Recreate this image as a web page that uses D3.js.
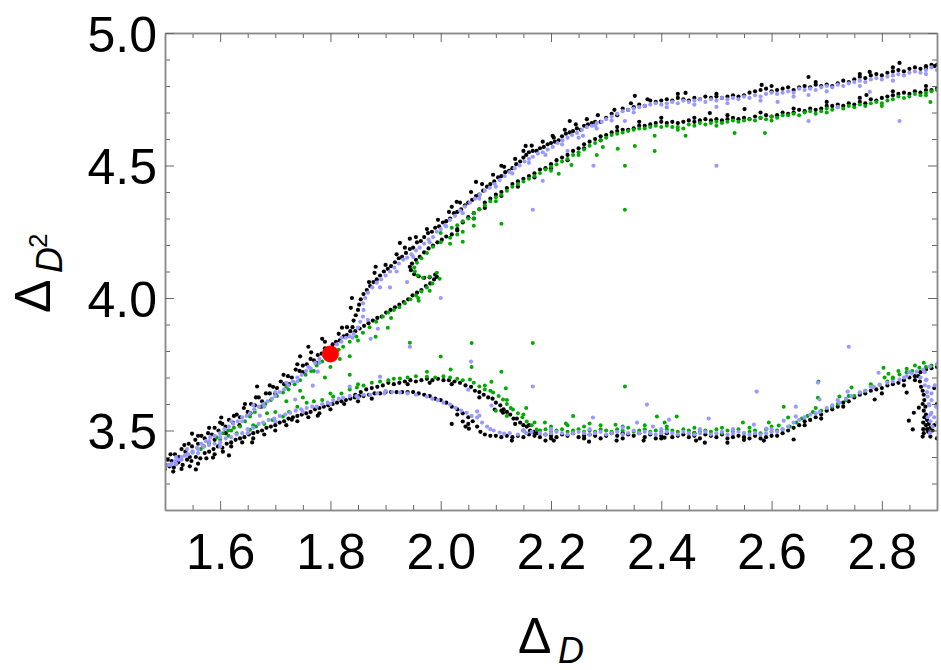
<!DOCTYPE html>
<html><head><meta charset="utf-8">
<script src="https://cdn.jsdelivr.net/npm/d3@7"></script>
<style>html,body{margin:0;padding:0;background:#fff}svg{display:block}text{font-family:"Liberation Sans",Arial,sans-serif;fill:#000}</style>
</head><body><div id="c"></div>
<script>
// Flat x,y lists
const xMajor=[1.6,1.8,2.0,2.2,2.4,2.6,2.8];
const xMinor=[1.55,1.65,1.7,1.75,1.85,1.9,1.95,2.05,2.1,2.15,2.25,2.3,2.35,2.45,2.5,2.55,2.65,2.7,2.75,2.85];
const yMajor=[3.5,4.0,4.5,5.0];
const yMinor=[3.3,3.4,3.6,3.7,3.8,3.9,4.1,4.2,4.3,4.4,4.6,4.7,4.8,4.9];
const redPoint=[1.8,3.789];

const blackUpper=[1.5,3.37,1.505,3.39,1.512,3.385,1.518,3.41,1.525,3.40,1.53,3.43,1.537,3.42,1.543,3.45,1.549,3.44,1.555,3.465,1.56,3.45,1.566,3.48,1.572,3.47,1.578,3.49,1.585,3.485,1.59,3.51,1.597,3.50,1.604,3.525,1.61,3.515,1.616,3.54,1.623,3.53,1.63,3.56,1.636,3.55,1.643,3.585,1.65,3.57,1.656,3.60,1.663,3.595,1.67,3.625,1.676,3.61,1.683,3.64,1.69,3.64,1.696,3.665,1.703,3.66,1.71,3.685,1.716,3.675,1.723,3.705,1.73,3.70,1.737,3.73,1.744,3.725,1.75,3.745,1.757,3.75,1.764,3.77,1.77,3.765,1.777,3.785,1.784,3.79,1.79,3.81,1.797,3.805,1.804,3.825,1.81,3.835,1.817,3.84,1.824,3.855,1.83,3.86,1.836,3.875,1.84,3.89,1.842,3.915,1.846,3.935,1.85,3.955,1.852,3.975,1.855,3.995,1.86,4.015,1.866,4.03,1.872,4.045,1.878,4.06,1.884,4.07,1.89,4.085,1.897,4.10,1.904,4.11,1.91,4.12,1.917,4.135,1.924,4.15,1.93,4.155,1.937,4.17,1.944,4.185,1.95,4.19,1.957,4.21,1.964,4.215,1.97,4.23,1.977,4.245,1.984,4.25,1.99,4.265,1.997,4.27,2.004,4.285,2.01,4.29,2.017,4.30,2.024,4.32,2.03,4.325,2.037,4.335,2.044,4.35,2.05,4.36,2.057,4.37,2.064,4.385,2.07,4.39,2.077,4.405,2.084,4.42,2.09,4.43,2.097,4.44,2.104,4.455,2.11,4.46,2.117,4.475,2.124,4.48,2.13,4.49,2.137,4.505,2.144,4.515,2.15,4.53,2.155,4.54,2.16,4.55,2.167,4.555,2.174,4.555,2.18,4.565,2.187,4.57,2.194,4.58,2.2,4.585,2.207,4.59,2.214,4.595,2.22,4.61,2.227,4.62,2.234,4.625,2.24,4.63,2.247,4.64,2.254,4.635,2.26,4.65,2.267,4.655,2.274,4.66,2.28,4.665,2.29,4.665,2.30,4.68,2.31,4.695,2.32,4.69,2.33,4.715,2.34,4.71,2.35,4.72,2.36,4.73,2.37,4.725,2.38,4.745,2.39,4.74,2.40,4.745,2.41,4.75,2.42,4.745,2.43,4.755,2.44,4.75,2.45,4.745,2.46,4.755,2.47,4.75,2.48,4.76,2.49,4.755,2.50,4.76,2.51,4.755,2.52,4.76,2.53,4.765,2.54,4.76,2.55,4.765,2.56,4.775,2.57,4.78,2.58,4.785,2.59,4.79,2.60,4.78,2.61,4.785,2.62,4.79,2.63,4.795,2.64,4.785,2.65,4.795,2.66,4.80,2.67,4.795,2.68,4.805,2.69,4.80,2.70,4.805,2.71,4.80,2.72,4.81,2.73,4.82,2.74,4.815,2.75,4.825,2.76,4.835,2.77,4.83,2.78,4.84,2.79,4.845,2.80,4.84,2.81,4.85,2.82,4.855,2.83,4.86,2.84,4.855,2.85,4.865,2.86,4.87,2.87,4.865,2.88,4.875,2.89,4.88,2.895,4.875,2.9,4.88];
const blackFork=[1.845,3.875,1.853,3.885,1.861,3.895,1.869,3.905,1.877,3.915,1.885,3.925,1.893,3.93,1.901,3.945,1.909,3.955,1.917,3.965,1.925,3.975,1.933,3.985,1.941,3.995,1.949,4.01,1.957,4.02,1.965,4.03,1.973,4.045,1.981,4.055,1.988,4.07,1.993,4.08,1.99,4.088,1.98,4.078,1.97,4.076,1.96,4.082,1.952,4.09,1.946,4.105,1.944,4.118,1.948,4.13,1.955,4.144,1.962,4.155,1.97,4.172,1.978,4.187,1.986,4.198,1.994,4.21,2.002,4.22,2.01,4.232,2.02,4.24,2.03,4.255,2.04,4.285,2.05,4.305,2.06,4.32,2.07,4.335,2.08,4.36,2.09,4.375,2.10,4.39,2.11,4.40,2.12,4.415,2.13,4.43,2.14,4.44,2.15,4.45,2.16,4.46,2.17,4.47,2.18,4.485,2.19,4.49,2.20,4.505,2.21,4.52,2.22,4.53,2.23,4.54,2.24,4.555,2.25,4.565,2.26,4.58,2.27,4.59,2.28,4.60,2.29,4.61,2.30,4.615,2.31,4.625,2.32,4.63,2.33,4.635,2.34,4.635,2.35,4.64,2.36,4.65,2.37,4.65,2.38,4.655,2.39,4.66,2.40,4.665,2.41,4.66,2.42,4.665,2.43,4.66,2.44,4.665,2.45,4.67,2.46,4.665,2.47,4.67,2.48,4.675,2.49,4.67,2.50,4.675,2.51,4.67,2.52,4.675,2.53,4.68,2.54,4.675,2.55,4.68,2.56,4.675,2.57,4.685,2.58,4.68,2.59,4.69,2.60,4.685,2.61,4.69,2.62,4.70,2.63,4.695,2.64,4.70,2.65,4.71,2.66,4.705,2.67,4.715,2.68,4.71,2.69,4.715,2.70,4.725,2.71,4.725,2.72,4.73,2.73,4.725,2.74,4.735,2.75,4.73,2.76,4.74,2.77,4.735,2.78,4.75,2.79,4.745,2.80,4.755,2.81,4.76,2.82,4.765,2.83,4.77,2.84,4.775,2.85,4.77,2.86,4.78,2.87,4.775,2.88,4.785,2.89,4.785,2.9,4.79];
const blackLow=[1.5,3.355,1.508,3.365,1.516,3.36,1.524,3.38,1.532,3.37,1.54,3.39,1.548,3.385,1.556,3.40,1.564,3.395,1.572,3.415,1.58,3.42,1.588,3.43,1.596,3.44,1.604,3.435,1.612,3.45,1.62,3.455,1.628,3.465,1.636,3.47,1.644,3.475,1.652,3.485,1.66,3.49,1.668,3.495,1.676,3.50,1.684,3.51,1.692,3.515,1.70,3.52,1.708,3.53,1.716,3.535,1.724,3.545,1.732,3.55,1.74,3.555,1.748,3.56,1.756,3.565,1.764,3.57,1.772,3.58,1.78,3.585,1.788,3.59,1.796,3.595,1.804,3.60,1.812,3.605,1.82,3.61,1.828,3.615,1.836,3.62,1.844,3.625,1.852,3.63,1.86,3.63,1.87,3.635,1.88,3.64,1.89,3.64,1.90,3.645,1.91,3.645,1.92,3.645,1.93,3.645,1.94,3.645,1.95,3.645,1.96,3.64,1.97,3.635,1.98,3.63,1.99,3.62,2.00,3.615,2.01,3.605,2.02,3.59,2.03,3.58,2.04,3.565,2.05,3.55,2.058,3.535,2.066,3.515,2.072,3.495,2.08,3.485,2.09,3.48,2.10,3.48,2.11,3.475];
const blackArc=[1.845,3.635,1.855,3.645,1.865,3.655,1.875,3.66,1.885,3.665,1.895,3.67,1.905,3.68,1.915,3.675,1.925,3.68,1.935,3.685,1.945,3.69,1.955,3.685,1.965,3.69,1.975,3.695,1.985,3.69,1.995,3.695,2.005,3.69,2.015,3.69,2.025,3.685,2.035,3.68,2.045,3.67,2.055,3.665,2.062,3.65,2.07,3.645,2.078,3.635,2.086,3.625,2.094,3.62,2.10,3.605,2.108,3.595,2.114,3.58,2.12,3.57,2.126,3.56,2.132,3.545,2.138,3.545,2.144,3.53,2.15,3.52,2.156,3.515,2.162,3.50,2.168,3.495,2.174,3.49];
const blackFlat=[2.12,3.48,2.13,3.475,2.14,3.48,2.15,3.475,2.16,3.485,2.17,3.48,2.18,3.475,2.19,3.485,2.20,3.48,2.21,3.475,2.22,3.485,2.23,3.48,2.24,3.49,2.25,3.475,2.26,3.48,2.27,3.485,2.28,3.48,2.29,3.47,2.30,3.48,2.31,3.49,2.32,3.48,2.33,3.47,2.34,3.485,2.35,3.48,2.36,3.49,2.37,3.475,2.38,3.485,2.39,3.47,2.40,3.48,2.41,3.49,2.42,3.475,2.43,3.48,2.44,3.485,2.45,3.475,2.46,3.48,2.47,3.47,2.48,3.485,2.49,3.48,2.50,3.475,2.51,3.485,2.52,3.47,2.53,3.475,2.54,3.48,2.55,3.475,2.56,3.47,2.57,3.48,2.58,3.47,2.59,3.475,2.60,3.48,2.61,3.48,2.62,3.49,2.63,3.50,2.64,3.51,2.65,3.52,2.66,3.535,2.67,3.54,2.68,3.55,2.69,3.56,2.70,3.575,2.71,3.58,2.72,3.59,2.73,3.605,2.74,3.61,2.75,3.625,2.76,3.635,2.77,3.64,2.78,3.65,2.79,3.655,2.80,3.66,2.81,3.67,2.82,3.675,2.83,3.68,2.84,3.69,2.85,3.70,2.86,3.705,2.87,3.72,2.88,3.73,2.89,3.735,2.9,3.74];
const blackDrop=[2.866,3.705,2.869,3.685,2.871,3.665,2.874,3.65,2.876,3.635,2.877,3.615,2.874,3.60,2.879,3.59,2.876,3.575,2.88,3.56,2.877,3.55,2.882,3.54,2.875,3.53,2.88,3.52,2.885,3.525,2.875,3.505,2.882,3.505,2.888,3.51,2.876,3.49,2.884,3.495,2.874,3.477,2.888,3.477,2.892,3.50,2.895,3.52,2.9,3.47,2.895,3.66,2.9,3.60];
const blackOutliers=[1.839,4.0,1.837,3.963,1.821,3.888,1.785,3.846,1.76,3.816,1.745,3.78,1.667,3.666,1.602,3.549,1.549,3.488,1.616,3.406,1.556,3.353,1.658,3.455,1.926,4.208,1.882,4.118,2.04,3.534,2.051,3.507,1.777,3.556,1.73,3.541,1.587,3.398,2.064,4.438,2.11,4.499,2.154,4.574,2.203,4.612,2.234,4.668,2.352,4.763,2.029,4.363,2.02,4.344,1.944,4.224,2.832,4.887,2.667,4.834,2.488,4.698,2.551,4.713,2.444,4.774,2.582,4.804,2.778,4.853,2.772,4.766,2.129,3.462,2.19,3.462,2.205,3.462,2.269,3.458,2.319,3.462,2.368,3.462,2.406,3.473,2.463,3.462,2.098,3.579,2.113,3.567,2.479,3.454,2.52,3.454,2.64,3.466,2.586,3.462,2.787,3.617,2.845,3.643,2.849,3.537,2.858,3.567,2.856,3.504,2.867,3.586,2.03,4.26,2.02,3.525,2.045,3.515];
const blackScatter=[1.51,3.41,1.52,3.375,1.535,3.445,1.545,3.40,1.56,3.48,1.57,3.44,1.58,3.51,1.59,3.465,1.6,3.53,1.61,3.49,1.625,3.555,1.635,3.52,1.645,3.60,1.655,3.565,1.665,3.625,1.675,3.59,1.69,3.67,1.70,3.64,1.715,3.71,1.725,3.675,1.74,3.75,1.75,3.72,1.765,3.795,1.775,3.755,1.79,3.835,1.815,3.865,1.83,3.89,1.87,4.06,1.88,4.095,1.90,4.125,1.92,4.165,1.935,4.19,1.955,4.23,1.975,4.26,1.995,4.295,2.015,4.325,2.035,4.36,2.055,4.40,2.075,4.43,2.095,4.465,2.115,4.495,2.135,4.525,2.15,4.555,2.165,4.575,2.185,4.59,2.205,4.605,2.225,4.635,2.245,4.655,2.265,4.675,2.285,4.69,2.315,4.71,2.345,4.735,2.375,4.75,1.515,3.345,1.53,3.355,1.545,3.365,1.56,3.375,1.575,3.395,1.59,3.41,1.605,3.42,1.62,3.44,1.64,3.455,1.66,3.47,1.68,3.485,1.70,3.50,1.72,3.52,1.74,3.535,1.76,3.55,1.78,3.565,1.80,3.58,1.825,3.60,1.85,3.61,1.875,3.62,2.03,3.56,2.05,3.525,2.06,4.30,2.08,4.34,2.11,4.385,2.14,4.42,2.17,4.455,2.2,4.49,2.23,4.52,2.26,4.565,2.29,4.595,2.32,4.645,2.36,4.665,2.4,4.68,2.46,4.68,2.52,4.69,2.58,4.70,2.64,4.715,2.7,4.74,2.76,4.755,2.82,4.78,2.88,4.80,2.2,3.47,2.26,3.47,2.33,3.49,2.4,3.47,2.46,3.49,2.55,3.465,2.66,3.52,2.69,3.545,2.73,3.59,2.8,3.64,2.84,3.67,2.86,3.69,1.94,3.675,1.98,3.68,2.02,3.675,2.07,3.625,2.11,3.575,2.135,3.525,2.15,3.50,2.16,3.52,2.43,4.77,2.5,4.77,2.6,4.80,2.68,4.815,2.76,4.845,2.82,4.87,2.88,4.865];

const greenFork=[1.58,3.455,1.594,3.474,1.605,3.49,1.615,3.50,1.625,3.51,1.636,3.515,1.645,3.535,1.654,3.553,1.663,3.57,1.672,3.59,1.682,3.60,1.692,3.615,1.703,3.63,1.714,3.643,1.724,3.655,1.735,3.675,1.745,3.69,1.755,3.71,1.765,3.725,1.775,3.745,1.785,3.76,1.795,3.77,1.805,3.785,1.815,3.805,1.823,3.816,1.835,3.835,1.847,3.855,1.859,3.869,1.871,3.89,1.883,3.91,1.895,3.93,1.905,3.945,1.915,3.955,1.925,3.965,1.935,3.98,1.945,3.995,1.955,4.01,1.965,4.025,1.975,4.04,1.985,4.055,1.998,4.073,1.993,4.095,1.98,4.08,1.968,4.076,1.958,4.085,1.953,4.10,1.952,4.115,1.957,4.133,1.965,4.15,1.975,4.17,1.986,4.193,2.0,4.21,2.017,4.227,2.03,4.24,2.04,4.25,2.02,4.265,2.03,4.275,2.04,4.29,2.05,4.30,2.06,4.32,2.07,4.335,2.08,4.35,2.09,4.365,2.10,4.38,2.11,4.39,2.12,4.405,2.13,4.42,2.14,4.43,2.15,4.44,2.16,4.45,2.17,4.46,2.18,4.472,2.19,4.485,2.20,4.495,2.21,4.505,2.22,4.515,2.23,4.525,2.24,4.54,2.25,4.55,2.26,4.56,2.27,4.575,2.28,4.585,2.29,4.595,2.30,4.605,2.31,4.615,2.32,4.62,2.33,4.625,2.34,4.63,2.35,4.635,2.36,4.64,2.37,4.64,2.38,4.645,2.39,4.65,2.40,4.645,2.41,4.65,2.42,4.645,2.43,4.645,2.44,4.64,2.45,4.655,2.46,4.65,2.47,4.66,2.48,4.655,2.49,4.66,2.50,4.665,2.51,4.66,2.52,4.665,2.53,4.67,2.54,4.665,2.55,4.67,2.56,4.675,2.57,4.67,2.58,4.68,2.59,4.675,2.60,4.685,2.61,4.68,2.62,4.69,2.63,4.69,2.64,4.695,2.65,4.69,2.66,4.70,2.67,4.705,2.68,4.695,2.69,4.705,2.70,4.715,2.71,4.71,2.72,4.72,2.73,4.715,2.74,4.725,2.75,4.72,2.76,4.73,2.77,4.725,2.78,4.735,2.79,4.74,2.80,4.735,2.81,4.745,2.82,4.75,2.83,4.76,2.84,4.755,2.85,4.76,2.86,4.77,2.87,4.765,2.88,4.775,2.89,4.78,2.9,4.785];
const greenArc=[1.55,3.417,1.565,3.43,1.58,3.45,1.6,3.466,1.615,3.48,1.63,3.49,1.654,3.503,1.665,3.515,1.68,3.525,1.695,3.54,1.714,3.553,1.725,3.57,1.74,3.59,1.757,3.605,1.77,3.61,1.785,3.615,1.805,3.628,1.82,3.64,1.835,3.655,1.848,3.662,1.86,3.67,1.875,3.68,1.89,3.685,1.905,3.69,1.915,3.695,1.926,3.696,1.94,3.70,1.955,3.705,1.975,3.703,1.99,3.70,2.005,3.705,2.017,3.70,2.03,3.695,2.04,3.69,2.053,3.692,2.06,3.68,2.07,3.666,2.08,3.655,2.09,3.65,2.095,3.643,2.105,3.63,2.113,3.617,2.12,3.60,2.127,3.585,2.131,3.579,2.14,3.565,2.148,3.55,2.156,3.534,2.165,3.52,2.174,3.504,2.18,3.50,2.19,3.505,2.20,3.495,2.21,3.50,2.22,3.505,2.23,3.495,2.24,3.50,2.25,3.505,2.26,3.495,2.27,3.50,2.28,3.495,2.29,3.505,2.30,3.50,2.31,3.495,2.32,3.505,2.33,3.50,2.34,3.51,2.35,3.495,2.36,3.50,2.37,3.505,2.38,3.495,2.39,3.50,2.40,3.495,2.41,3.505,2.42,3.50,2.43,3.495,2.44,3.505,2.45,3.50,2.46,3.49,2.47,3.495,2.48,3.50,2.49,3.495,2.50,3.505,2.51,3.49,2.52,3.50,2.53,3.495,2.54,3.505,2.55,3.49,2.56,3.495,2.57,3.50,2.58,3.49,2.59,3.505,2.60,3.495,2.61,3.50,2.62,3.505,2.633,3.515,2.645,3.53,2.655,3.545,2.665,3.555,2.675,3.57,2.69,3.575,2.71,3.59,2.72,3.60,2.735,3.615,2.75,3.63,2.76,3.643,2.77,3.65,2.785,3.665,2.796,3.673,2.81,3.685,2.82,3.695,2.832,3.711,2.845,3.72,2.855,3.725,2.868,3.737,2.88,3.74,2.89,3.745,2.9,3.749];
const greenOutliers=[1.944,3.831,2.0,3.779,1.975,3.722,2.018,3.73,2.056,3.83,2.167,3.83,2.056,3.74,2.11,3.722,2.092,3.684,2.118,3.659,2.334,3.666,2.24,3.555,2.189,3.53,2.227,3.526,2.27,3.526,2.317,3.522,2.392,3.553,2.428,3.553,2.406,3.53,2.548,3.53,2.595,3.53,2.622,3.59,2.63,3.549,2.613,3.519,2.685,3.685,2.684,3.624,2.745,3.662,2.723,3.628,2.803,3.737,2.812,3.714,2.83,3.725,2.805,3.70,2.845,3.733,2.876,3.756,2.04,4.212,2.06,4.273,2.11,4.28,2.017,4.205,2.214,4.469,2.237,4.502,2.283,4.54,2.294,4.57,2.321,4.563,2.352,4.574,2.388,4.612,2.388,4.555,2.334,4.499,2.334,4.333,2.444,4.612,2.533,4.623,2.588,4.623,2.888,4.74,1.98,4.027,1.959,4.0,1.904,3.888,1.882,3.854,1.835,3.78,1.817,3.77,1.80,3.74,1.79,3.70,1.835,3.71,1.745,3.65,1.72,3.61,1.685,3.565,2.12,3.555,2.10,3.575,2.155,3.585];
const greenScatter=[2.20,3.515,2.23,3.52,2.26,3.515,2.29,3.52,2.33,3.515,2.37,3.52,2.41,3.515,2.46,3.51,2.51,3.51,2.56,3.51,2.6,3.515,2.68,3.585,2.74,3.63,2.78,3.675,2.82,3.70,2.86,3.745,1.62,3.50,1.66,3.52,1.7,3.57,1.75,3.625,1.8,3.64,1.85,3.675,2.08,3.67,2.12,3.615,2.15,3.56,2.17,3.53,1.72,3.665,1.77,3.725,1.81,3.785,1.85,3.84,1.91,3.925,1.96,3.99,2.0,4.245,2.06,4.30,2.1,4.365,2.2,4.48,2.25,4.54,2.43,4.635,2.5,4.65,2.6,4.67,2.7,4.70,2.8,4.725,2.88,4.765];

const blueUpper=[1.5,3.36,1.506,3.37,1.512,3.375,1.518,3.385,1.524,3.39,1.53,3.40,1.536,3.405,1.542,3.41,1.55,3.42,1.558,3.435,1.566,3.45,1.574,3.46,1.582,3.475,1.59,3.48,1.6,3.49,1.608,3.505,1.616,3.515,1.624,3.525,1.632,3.535,1.64,3.55,1.648,3.555,1.654,3.565,1.662,3.58,1.67,3.59,1.678,3.60,1.686,3.61,1.694,3.62,1.70,3.63,1.708,3.645,1.716,3.655,1.724,3.67,1.732,3.685,1.74,3.70,1.748,3.71,1.756,3.725,1.764,3.735,1.772,3.755,1.78,3.77,1.788,3.785,1.796,3.80,1.804,3.81,1.812,3.825,1.82,3.835,1.828,3.85,1.835,3.855,1.842,3.865,1.85,3.888,1.854,3.91,1.859,3.93,1.86,3.955,1.859,3.98,1.863,4.0,1.868,4.02,1.876,4.04,1.884,4.058,1.892,4.07,1.9,4.085,1.908,4.10,1.916,4.115,1.924,4.13,1.932,4.145,1.939,4.152,1.947,4.165,1.955,4.18,1.962,4.19,1.97,4.205,1.978,4.22,1.986,4.23,1.993,4.25,2.0,4.26,2.008,4.275,2.017,4.295,2.026,4.31,2.035,4.33,2.044,4.345,2.053,4.36,2.062,4.375,2.071,4.39,2.08,4.405,2.089,4.416,2.098,4.43,2.107,4.445,2.116,4.46,2.125,4.475,2.134,4.49,2.143,4.50,2.152,4.515,2.16,4.525,2.167,4.533,2.176,4.545,2.185,4.55,2.194,4.56,2.203,4.57,2.212,4.585,2.221,4.595,2.23,4.605,2.238,4.615,2.247,4.623,2.256,4.635,2.265,4.645,2.274,4.65,2.283,4.66,2.292,4.665,2.30,4.675,2.31,4.685,2.32,4.695,2.33,4.705,2.34,4.71,2.35,4.715,2.36,4.72,2.37,4.725,2.38,4.73,2.39,4.735,2.40,4.73,2.41,4.735,2.42,4.74,2.43,4.735,2.44,4.745,2.45,4.74,2.46,4.745,2.47,4.75,2.48,4.74,2.49,4.75,2.50,4.745,2.51,4.755,2.52,4.75,2.53,4.755,2.54,4.75,2.55,4.76,2.56,4.755,2.57,4.765,2.58,4.76,2.59,4.77,2.60,4.775,2.61,4.77,2.62,4.775,2.63,4.78,2.64,4.775,2.65,4.79,2.66,4.785,2.67,4.79,2.68,4.785,2.69,4.795,2.70,4.80,2.71,4.795,2.72,4.805,2.73,4.80,2.74,4.81,2.75,4.815,2.76,4.82,2.77,4.815,2.78,4.825,2.79,4.83,2.80,4.825,2.81,4.835,2.82,4.84,2.83,4.845,2.84,4.84,2.85,4.85,2.86,4.855,2.87,4.85,2.88,4.86,2.89,4.87,2.9,4.86];
const blueArc=[1.51,3.37,1.52,3.375,1.53,3.39,1.54,3.41,1.55,3.42,1.56,3.43,1.57,3.44,1.58,3.445,1.59,3.45,1.6,3.455,1.61,3.47,1.62,3.475,1.63,3.485,1.64,3.49,1.65,3.505,1.66,3.51,1.67,3.525,1.678,3.53,1.688,3.54,1.698,3.545,1.708,3.555,1.718,3.56,1.727,3.567,1.737,3.575,1.747,3.58,1.757,3.585,1.767,3.59,1.775,3.59,1.785,3.60,1.795,3.605,1.805,3.615,1.815,3.62,1.823,3.624,1.835,3.63,1.847,3.63,1.86,3.635,1.872,3.635,1.885,3.64,1.898,3.64,1.912,3.645,1.926,3.643,1.94,3.64,1.955,3.635,1.975,3.628,1.985,3.62,1.995,3.615,2.005,3.605,2.017,3.598,2.027,3.585,2.037,3.575,2.047,3.567,2.056,3.555,2.066,3.549,2.075,3.53,2.084,3.515,2.09,3.505,2.096,3.50,2.107,3.492,2.115,3.488];
const blueFlat=[2.125,3.49,2.14,3.485,2.155,3.49,2.165,3.495,2.18,3.49,2.19,3.485,2.20,3.49,2.21,3.495,2.22,3.49,2.23,3.485,2.24,3.49,2.25,3.495,2.26,3.49,2.27,3.485,2.28,3.49,2.29,3.495,2.30,3.485,2.31,3.49,2.32,3.495,2.33,3.485,2.34,3.49,2.35,3.50,2.36,3.49,2.37,3.495,2.38,3.49,2.39,3.485,2.40,3.49,2.41,3.495,2.42,3.49,2.43,3.485,2.44,3.495,2.45,3.49,2.46,3.485,2.47,3.49,2.48,3.495,2.49,3.485,2.50,3.49,2.51,3.495,2.52,3.485,2.53,3.49,2.54,3.495,2.55,3.49,2.56,3.485,2.57,3.49,2.58,3.485,2.59,3.49,2.60,3.495,2.61,3.495,2.62,3.504,2.63,3.515,2.64,3.53,2.65,3.54,2.66,3.55,2.67,3.56,2.68,3.565,2.687,3.57,2.70,3.585,2.71,3.595,2.723,3.605,2.735,3.62,2.745,3.63,2.76,3.643,2.77,3.65,2.785,3.665,2.796,3.673,2.81,3.68,2.82,3.685,2.832,3.692,2.845,3.705,2.855,3.715,2.863,3.722,2.875,3.73,2.887,3.741,2.9,3.75];
const blueDrop=[2.878,3.72,2.881,3.692,2.878,3.67,2.885,3.665,2.882,3.645,2.883,3.628,2.89,3.615,2.886,3.595,2.89,3.567,2.895,3.55,2.888,3.535,2.892,3.515,2.887,3.49,2.896,3.67,2.898,3.59,2.9,3.53];
const blueOutliers=[1.944,3.816,2.0,4.0,1.939,4.06,1.908,4.04,1.89,4.04,1.873,3.846,1.886,3.884,1.868,3.918,1.89,3.703,1.835,3.666,1.777,3.722,1.768,3.669,1.736,3.617,1.672,3.556,2.055,3.76,2.167,3.666,2.374,3.598,2.276,3.549,2.356,3.53,2.385,3.515,2.414,3.541,2.05,3.654,2.092,3.594,2.066,3.572,2.07,3.556,2.486,3.545,2.573,3.647,2.568,3.522,2.644,3.59,2.644,3.553,2.622,3.537,2.591,3.507,2.684,3.681,2.687,3.617,2.74,3.816,2.738,3.647,2.794,3.718,2.167,4.333,2.185,4.442,2.277,4.499,2.334,4.668,2.283,4.64,2.258,4.612,2.23,4.555,2.5,4.721,2.611,4.74,2.667,4.766,2.667,4.668,2.778,4.778,2.832,4.668,2.5,4.499,2.72,4.72];
const blueScatter=[1.52,3.40,1.54,3.43,1.56,3.415,1.58,3.46,1.6,3.475,1.62,3.535,1.64,3.535,1.66,3.595,1.68,3.59,1.7,3.645,1.72,3.68,1.74,3.685,1.76,3.74,1.78,3.755,1.8,3.785,1.82,3.85,1.84,3.85,1.92,4.10,1.95,4.155,1.98,4.21,2.01,4.27,2.04,4.32,2.07,4.375,2.10,4.42,2.13,4.47,2.16,4.51,2.19,4.54,2.22,4.58,2.25,4.605,2.28,4.65,2.31,4.67,2.35,4.70,2.41,4.72,2.46,4.73,2.52,4.735,2.58,4.745,2.64,4.76,2.7,4.78,2.76,4.80,2.82,4.82,2.88,4.845,2.15,3.50,2.2,3.505,2.27,3.505,2.33,3.51,2.4,3.505,2.47,3.505,2.53,3.505,2.6,3.505,2.72,3.615,2.78,3.665,2.84,3.70,2.85,3.72,2.87,3.70,2.88,3.69,2.885,3.60,2.888,3.56,2.89,3.64,2.883,3.55,1.6,3.44,1.65,3.49,1.7,3.535,1.75,3.57,1.8,3.60,1.85,3.625,1.9,3.65];

const blackSeries=[blackUpper,blackFork,blackLow,blackArc,blackFlat,blackDrop,blackOutliers,blackScatter];
const greenSeries=[greenFork,greenArc,greenOutliers,greenScatter];
const blueSeries=[blueUpper,blueArc,blueFlat,blueDrop,blueOutliers,blueScatter];
const toPairs=l=>d3.range(0,l.length,2).map(i=>[l[i],l[i+1]]);

const W=941,H=670,L=165,R=937,T=33,B=510;
const x=d3.scaleLinear().domain([1.5,2.9]).range([L,R]);
const y=d3.scaleLinear().domain([3.2,5.0]).range([B,T]);
const svg=d3.select("#c").append("svg").attr("width",W).attr("height",H);
svg.append("defs").append("clipPath").attr("id","pc").append("rect").attr("x",L).attr("y",T).attr("width",R-L).attr("height",B-T);

const plot=svg.append("g").attr("clip-path","url(#pc)");
const dots=(series,color,r)=>{
  plot.append("g").attr("fill",color).selectAll("circle").data(series.flatMap(toPairs)).join("circle")
    .attr("cx",d=>x(d[0])).attr("cy",d=>y(d[1])).attr("r",r);
};
dots(blackSeries,"#000",2.1);
dots(greenSeries,"#00aa00",2);
dots(blueSeries,"#9999ff",2.1);
svg.append("circle").attr("cx",x(redPoint[0])).attr("cy",y(redPoint[1])).attr("r",8.5).attr("fill","#ff0000");

const frame=svg.append("g");
const styleAxis=(g,labels)=>{
  g.select(".domain").attr("stroke","#8a8a8a").attr("stroke-width",1.5);
  g.selectAll(".tick line").attr("stroke","#666").attr("stroke-width",1);
  if(!labels) g.selectAll(".tick text").remove();
};
const put=(axis,tx,ty,labels)=>{const g=frame.append("g").attr("transform",`translate(${tx},${ty})`).call(axis);styleAxis(g,labels);return g;};
put(d3.axisBottom(x).tickValues(xMinor).tickSize(-5).tickSizeOuter(0),0,B,false);
put(d3.axisTop(x).tickValues(xMinor).tickSize(-5).tickSizeOuter(0),0,T,false);
put(d3.axisLeft(y).tickValues(yMinor).tickSize(-5).tickSizeOuter(0),L,0,false);
put(d3.axisRight(y).tickValues(yMinor).tickSize(-5).tickSizeOuter(0),R,0,false);
put(d3.axisTop(x).tickValues(xMajor).tickSize(-9).tickSizeOuter(0),0,T,false);
put(d3.axisRight(y).tickValues(yMajor).tickSize(-9).tickSizeOuter(0),R,0,false);
const bx=put(d3.axisBottom(x).tickValues(xMajor).tickSize(-9).tickSizeOuter(0).tickPadding(0).tickFormat(d3.format(".1f")),0,B,true);
bx.selectAll(".tick text").attr("font-size",50).attr("font-family",'"Liberation Sans",Arial,sans-serif').attr("fill","#000").attr("dy",null).attr("y",59).attr("dominant-baseline","alphabetic");
const ly=put(d3.axisLeft(y).tickValues(yMajor).tickSize(-9).tickSizeOuter(0).tickPadding(0).tickFormat(d3.format(".1f")),L,0,true);
ly.selectAll(".tick text").attr("font-size",50).attr("font-family",'"Liberation Sans",Arial,sans-serif').attr("fill","#000").attr("x",-8).attr("dy",null).attr("y",18).attr("text-anchor","end");

const t=(s,tx,ty,fs,rot,it)=>svg.append("text").text(s).attr("transform",`translate(${tx},${ty})${rot?" rotate(-90)":""}`).attr("font-size",fs).attr("font-style",it?"italic":"normal");
t("Δ",518,653,50,false,false);
t("D",558,663,36,false,true);
t("Δ",50,313,50,true,false);
t("D",62,273,36,true,true);
t("2",47,248,26,true,false);
</script></body></html>
